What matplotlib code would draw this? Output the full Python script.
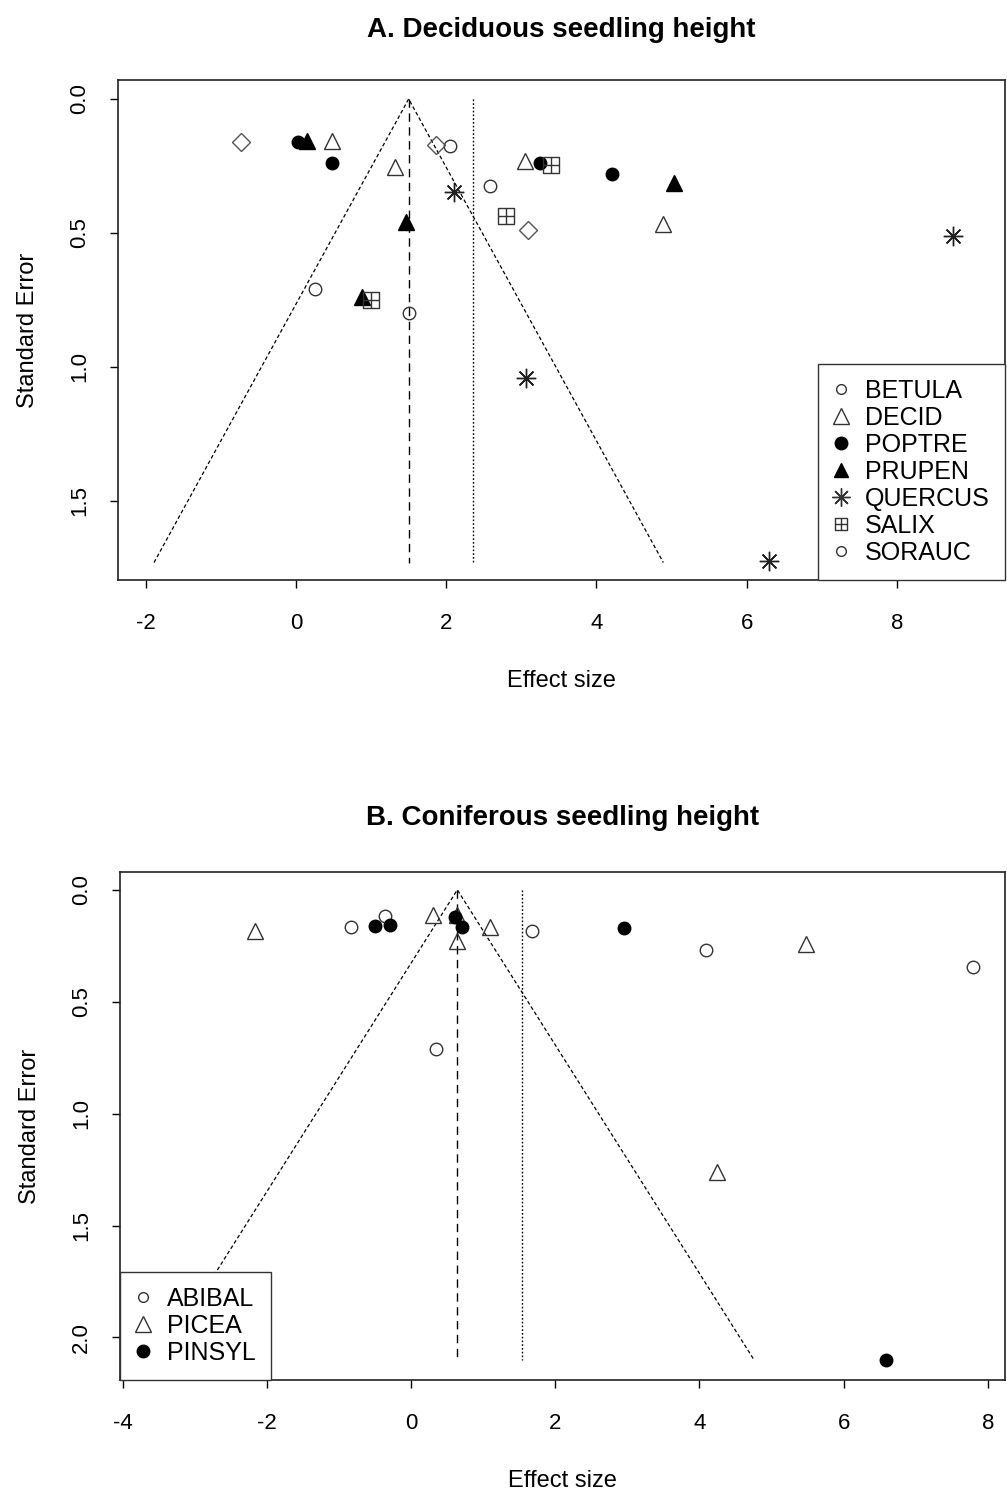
import matplotlib
matplotlib.use("Agg")
import matplotlib.pyplot as plt
from matplotlib.path import Path
from matplotlib.lines import Line2D

plt.rcParams['font.family'] = ['Liberation Sans', 'DejaVu Sans']

# A. deciduous species (effect size, standard error)
betula_x = [2.05, 2.58, 0.25, 1.50]
betula_se = [0.174, 0.323, 0.71, 0.80]
decid_x = [0.475, 1.32, 3.05, 4.89]
decid_se = [0.155, 0.255, 0.23, 0.466]
poptre_x = [0.03, 0.475, 3.25, 4.21]
poptre_se = [0.16, 0.24, 0.24, 0.281]
prupen_x = [0.15, 1.47, 0.88, 5.03]
prupen_se = [0.155, 0.458, 0.738, 0.315]
quercus_x = [2.11, 3.06, 8.75, 6.30]
quercus_se = [0.346, 1.04, 0.511, 1.724]
salix_x = [3.39, 2.79, 1.00]
salix_se = [0.246, 0.437, 0.75]
sorauc_x = [-0.73, 1.86, 3.09]
sorauc_se = [0.16, 0.17, 0.49]
# funnel: pooled estimate, max se, other estimate (dotted)
funnel_a = (1.50, 1.73, 2.36)

# B. coniferous species
abibal_x = [-0.84, -0.36, 1.67, 0.34, 4.09, 7.79]
abibal_se = [0.168, 0.116, 0.182, 0.71, 0.27, 0.344]
picea_x = [-2.17, 0.30, 0.64, 0.64, 1.10, 5.48, 4.24]
picea_se = [0.186, 0.112, 0.112, 0.23, 0.164, 0.24, 1.26]
pinsyl_x = [-0.50, -0.30, 0.61, 0.71, 2.95, 6.59]
pinsyl_se = [0.161, 0.156, 0.122, 0.164, 0.17, 2.10]
funnel_b = (0.64, 2.10, 1.54)

# pch 12: square with a plus
sqplus = Path([(-1, -1), (1, -1), (1, 1), (-1, 1), (-1, -1), (0, -1), (0, 1), (-1, 0), (1, 0)],
              [Path.MOVETO, Path.LINETO, Path.LINETO, Path.LINETO, Path.CLOSEPOLY,
               Path.MOVETO, Path.LINETO, Path.MOVETO, Path.LINETO])
asterisk = (8, 2, 0)

STY = {
    'circle': dict(marker='o', ms=9, mfc='none', mec='#333333', mew=1),
    'tri': dict(marker='^', ms=12, mfc='none', mec='#333333', mew=1),
    'fcircle': dict(marker='o', ms=9, mfc='black', mec='black', mew=1),
    'ftri': dict(marker='^', ms=11, mfc='black', mec='black', mew=1),
    'ast': dict(marker=asterisk, ms=14, mfc='none', mec='#222222', mew=1),
    'sq': dict(marker=sqplus, ms=11, mfc='none', mec='#333333', mew=1),
    'dia': dict(marker='D', ms=9.5, mfc='none', mec='#555555', mew=1),
}


def funnel(ax, f):
    est, se_max, est2 = f
    w = 1.96 * se_max
    ax.plot([est - w, est, est + w], [se_max, 0, se_max], color='black', lw=0.9,
            ls=(0, (3, 2)), zorder=1)
    ax.plot([est, est], [0, se_max], color='black', lw=1, ls=(0, (6, 4)), zorder=1)
    ax.plot([est2, est2], [0, se_max], color='black', lw=1, ls=(0, (1.2, 1.5)), zorder=1)


def style_axes(ax, xticks, yticks, xlim, ylim):
    ax.set_xlim(*xlim)
    ax.set_ylim(*ylim)
    ax.set_xticks(xticks)
    ax.set_xticklabels([f"{t:g}" for t in xticks])
    ax.set_yticks(yticks)
    ax.set_yticklabels([f"{t:.1f}" for t in yticks], rotation=90, va='center')
    ax.tick_params(direction='out', length=6, width=1, labelsize=16)
    ax.tick_params(axis='x', pad=17.5)
    ax.tick_params(axis='y', pad=14)
    for s in ax.spines.values():
        s.set_linewidth(1.2)
        s.set_color('#222222')
    ax.set_xlabel('Effect size', fontsize=17, labelpad=26)
    ax.set_ylabel('Standard Error', fontsize=17, labelpad=22)


def make_legend(ax, handles, labels, loc):
    leg = ax.legend(handles, labels, loc=loc, borderaxespad=0, fontsize=18,
                    frameon=True, fancybox=False, edgecolor='#333333', framealpha=1,
                    handlelength=0.6, handletextpad=0.68, labelspacing=0.12, borderpad=0.6)
    leg.get_frame().set_linewidth(1)
    return leg


fig = plt.figure(figsize=(10.07, 14.92), dpi=100)
ax1 = fig.add_axes([0.1172, 0.6113, 0.8808, 0.3351])
ax2 = fig.add_axes([0.1192, 0.0751, 0.8789, 0.3405])

# panel A
funnel(ax1, funnel_a)
ax1.plot(betula_x, betula_se, ls='none', **STY['circle'])
ax1.plot(decid_x, decid_se, ls='none', **STY['tri'])
ax1.plot(poptre_x, poptre_se, ls='none', **STY['fcircle'])
ax1.plot(prupen_x, prupen_se, ls='none', **STY['ftri'])
ax1.plot(quercus_x, quercus_se, ls='none', **STY['ast'])
ax1.plot(salix_x, salix_se, ls='none', **STY['sq'])
ax1.plot(sorauc_x, sorauc_se, ls='none', **STY['dia'])
style_axes(ax1, [-2, 0, 2, 4, 6, 8], [0.0, 0.5, 1.0, 1.5], (-2.37, 9.44), (1.795, -0.071))
ax1.set_title('A. Deciduous seedling height', fontsize=20, fontweight='bold', pad=31)

small = dict(ls='none', mfc='none', mec='#333333', mew=1)
handles_a = [
    Line2D([], [], marker='o', ms=7, **small),
    Line2D([], [], marker='^', ms=11, **small),
    Line2D([], [], marker='o', ms=9, ls='none', color='black'),
    Line2D([], [], marker='^', ms=10, ls='none', color='black'),
    Line2D([], [], marker=asterisk, ms=13, **small),
    Line2D([], [], marker=sqplus, ms=9, **small),
    Line2D([], [], marker='o', ms=7, **small),
]
labels_a = ['BETULA', 'DECID', 'POPTRE', 'PRUPEN', 'QUERCUS', 'SALIX', 'SORAUC']
make_legend(ax1, handles_a, labels_a, 'lower right')

# panel B
funnel(ax2, funnel_b)
ax2.plot(abibal_x, abibal_se, ls='none', **STY['circle'])
ax2.plot(picea_x, picea_se, ls='none', **STY['tri'])
ax2.plot(pinsyl_x, pinsyl_se, ls='none', **STY['fcircle'])
style_axes(ax2, [-4, -2, 0, 2, 4, 6, 8], [0.0, 0.5, 1.0, 1.5, 2.0], (-4.04, 8.24), (2.19, -0.08))
ax2.set_title('B. Coniferous seedling height', fontsize=20, fontweight='bold', pad=34)

handles_b = [
    Line2D([], [], marker='o', ms=7, **small),
    Line2D([], [], marker='^', ms=11, **small),
    Line2D([], [], marker='o', ms=9, ls='none', color='black'),
]
make_legend(ax2, handles_b, ['ABIBAL', 'PICEA', 'PINSYL'], 'lower left')

fig.savefig('out.png', dpi=100)
